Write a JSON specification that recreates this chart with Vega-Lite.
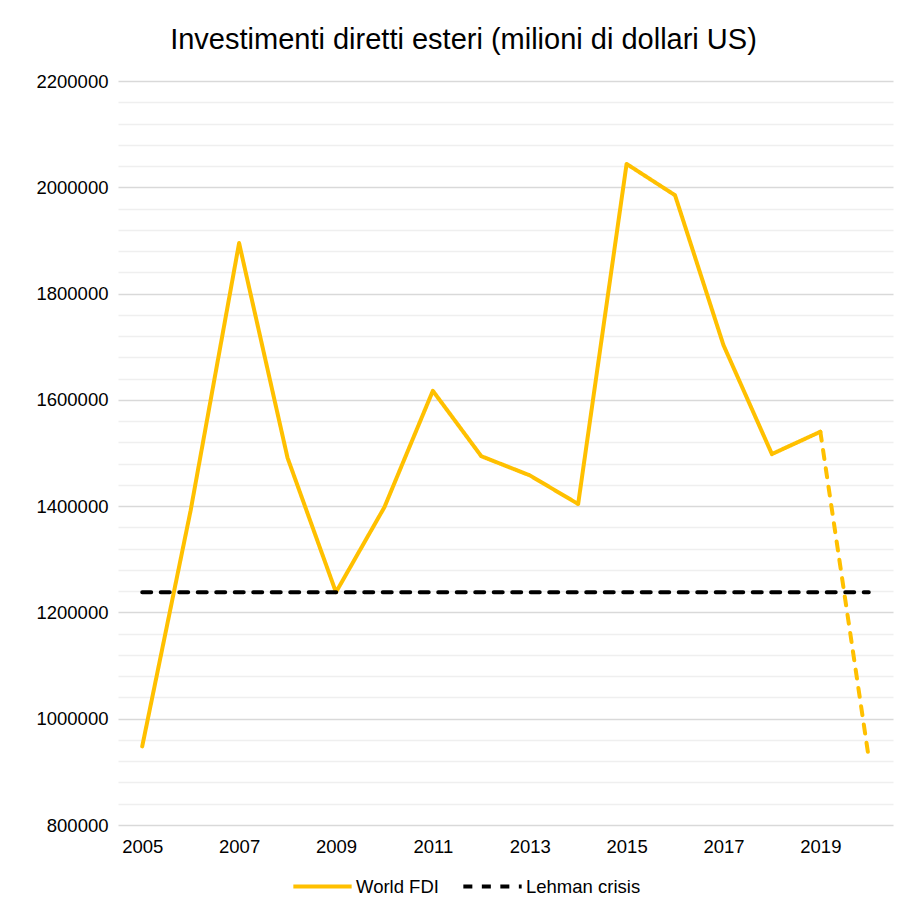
{
  "$schema": "https://vega.github.io/schema/vega-lite/v6.json",
  "width": 775,
  "height": 744,
  "autosize": "none",
  "padding": {"left": 118, "top": 81, "right": 11, "bottom": 88},
  "background": "white",
  "config": {"view": {"stroke": null}, "font": "Liberation Sans"},
  "title": {
    "text": "Investimenti diretti esteri (milioni di dollari US)",
    "fontSize": 29,
    "font": "Liberation Sans",
    "fontWeight": "normal",
    "color": "#000000",
    "anchor": "middle",
    "dx": -42,
    "offset": 17
  },
  "datasets": {
    "main": [
      {"year": 2005, "value": 948000, "series": "World FDI", "segment": "solid"},
      {"year": 2006, "value": 1392000, "series": "World FDI", "segment": "solid"},
      {"year": 2007, "value": 1895000, "series": "World FDI", "segment": "solid"},
      {"year": 2008, "value": 1491000, "series": "World FDI", "segment": "solid"},
      {"year": 2009, "value": 1238000, "series": "World FDI", "segment": "solid"},
      {"year": 2010, "value": 1398000, "series": "World FDI", "segment": "solid"},
      {"year": 2011, "value": 1617000, "series": "World FDI", "segment": "solid"},
      {"year": 2012, "value": 1494000, "series": "World FDI", "segment": "solid"},
      {"year": 2013, "value": 1458000, "series": "World FDI", "segment": "solid"},
      {"year": 2014, "value": 1404000, "series": "World FDI", "segment": "solid"},
      {"year": 2015, "value": 2044000, "series": "World FDI", "segment": "solid"},
      {"year": 2016, "value": 1985000, "series": "World FDI", "segment": "solid"},
      {"year": 2017, "value": 1703000, "series": "World FDI", "segment": "solid"},
      {"year": 2018, "value": 1498000, "series": "World FDI", "segment": "solid"},
      {"year": 2019, "value": 1540000, "series": "World FDI", "segment": "solid"},
      {"year": 2005, "value": 1238000, "series": "Lehman crisis", "segment": "solid"},
      {"year": 2020, "value": 1238000, "series": "Lehman crisis", "segment": "solid"},
      {"year": 2019, "value": 1540000, "series": "World FDI", "segment": "dashed"},
      {"year": 2020, "value": 926000, "series": "World FDI", "segment": "dashed"}
    ]
  },
  "layer": [
    {
      "data": {"name": "main"},
      "transform": [{"filter": "datum.segment === 'solid'"}],
      "mark": {"type": "line", "strokeWidth": 4, "strokeCap": "round", "strokeJoin": "round"},
      "encoding": {
        "x": {
          "field": "year",
          "type": "quantitative",
          "scale": {"domain": [2004.5, 2020.5], "nice": false, "zero": false},
          "axis": {
            "values": [2005, 2007, 2009, 2011, 2013, 2015, 2017, 2019],
            "tickCount": 20,
            "format": "d",
            "title": null,
            "grid": false,
            "ticks": false,
            "domain": false,
            "labelOverlap": false,
            "labelFontSize": 18.5,
            "labelColor": "#000000",
            "labelPadding": 12,
            "labelFont": "Liberation Sans"
          }
        },
        "y": {
          "field": "value",
          "type": "quantitative",
          "scale": {"domain": [800000, 2200000], "nice": false, "zero": false},
          "axis": {
            "values": [800000, 840000, 880000, 920000, 960000, 1000000, 1040000, 1080000, 1120000, 1160000, 1200000, 1240000, 1280000, 1320000, 1360000, 1400000, 1440000, 1480000, 1520000, 1560000, 1600000, 1640000, 1680000, 1720000, 1760000, 1800000, 1840000, 1880000, 1920000, 1960000, 2000000, 2040000, 2080000, 2120000, 2160000, 2200000],
            "tickCount": 60,
            "format": "d",
            "labelExpr": "datum.value % 200000 === 0 ? datum.label : ''",
            "labelOverlap": false,
            "title": null,
            "ticks": false,
            "domain": false,
            "grid": true,
            "gridColor": {"condition": {"test": "datum.value % 200000 === 0", "value": "#d9d9d9"}, "value": "#efefef"},
            "gridWidth": {"condition": {"test": "datum.value % 200000 === 0", "value": 1.6}, "value": 1.3},
            "labelFontSize": 18.5,
            "labelColor": "#000000",
            "labelPadding": 10,
            "labelFont": "Liberation Sans"
          }
        },
        "color": {
          "field": "series",
          "type": "nominal",
          "scale": {"domain": ["World FDI", "Lehman crisis"], "range": ["#FFC000", "#000000"]},
          "legend": {
            "title": null,
            "orient": "none",
            "legendX": 173,
            "legendY": 774,
            "direction": "horizontal",
            "symbolType": "stroke",
            "symbolSize": 3400,
            "symbolStrokeWidth": 4,
            "labelFontSize": 18.5,
            "labelColor": "#000000",
            "labelFont": "Liberation Sans",
            "columnPadding": 16,
            "labelOffset": 2
          }
        },
        "strokeDash": {
          "field": "series",
          "type": "nominal",
          "scale": {"domain": ["World FDI", "Lehman crisis"], "range": [[1, 0], [9, 9.5]]},
          "legend": {
            "title": null,
            "orient": "none",
            "legendX": 173,
            "legendY": 774,
            "direction": "horizontal",
            "symbolType": "stroke",
            "symbolSize": 3400,
            "symbolStrokeWidth": 4,
            "labelFontSize": 18.5,
            "labelColor": "#000000",
            "labelFont": "Liberation Sans",
            "columnPadding": 16,
            "labelOffset": 2
          }
        }
      }
    },
    {
      "data": {"name": "main"},
      "transform": [{"filter": "datum.segment === 'dashed'"}],
      "mark": {"type": "line", "strokeWidth": 4, "strokeCap": "round", "color": "#FFC000", "strokeDash": [9, 9.5]},
      "encoding": {
        "x": {"field": "year", "type": "quantitative"},
        "y": {"field": "value", "type": "quantitative"}
      }
    }
  ]
}
